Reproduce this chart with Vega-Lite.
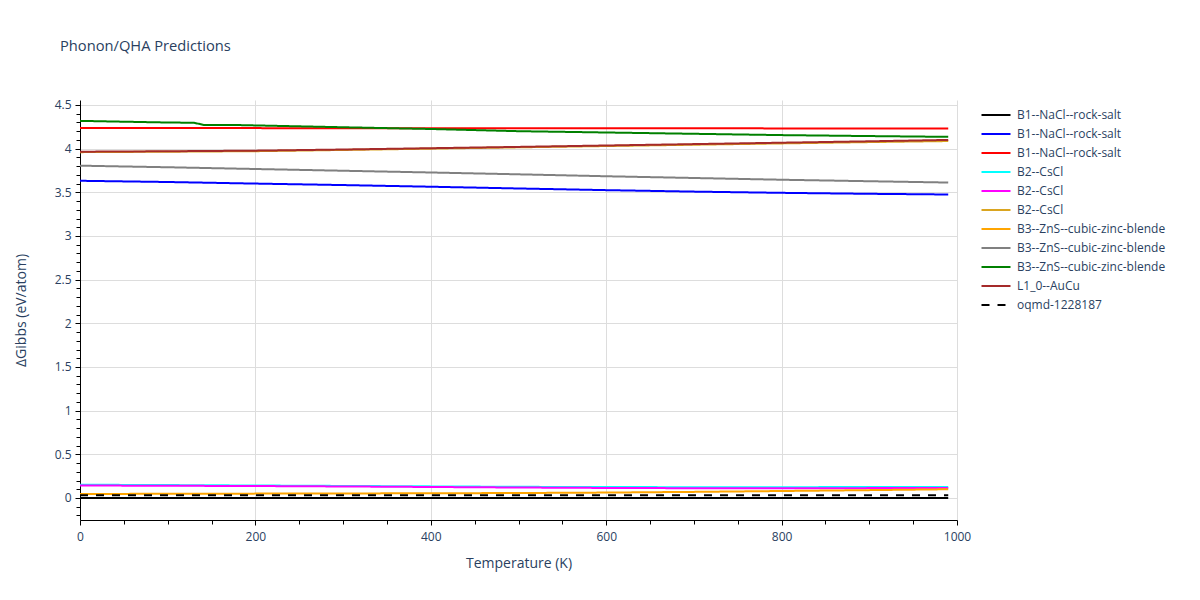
{
  "$schema": "https://vega.github.io/schema/vega-lite/v6.json",
  "width": 877,
  "height": 420,
  "autosize": {"type": "none"},
  "padding": {"left": 80, "top": 100, "right": 243, "bottom": 80},
  "background": "white",
  "config": {
    "font": "Open Sans",
    "view": {"stroke": null},
    "axis": {
      "domainColor": "#000000",
      "domainWidth": 1,
      "tickColor": "#000000",
      "tickSize": 5,
      "labelFont": "Open Sans",
      "labelFontSize": 12,
      "labelColor": "#2a3f5f",
      "titleFont": "Open Sans",
      "titleFontSize": 14,
      "titleFontWeight": "normal",
      "titleColor": "#2a3f5f",
      "gridColor": "#dddddd",
      "gridWidth": 1
    }
  },
  "title": {
    "text": "Phonon/QHA Predictions",
    "anchor": "start",
    "frame": "group",
    "dx": -20,
    "offset": 45,
    "fontSize": 14.7,
    "fontWeight": "normal",
    "color": "#2a3f5f",
    "font": "Open Sans"
  },
  "data": {
    "values": [
      {"s": "B1--NaCl--rock-salt#1", "T": 0, "G": 0},
      {"s": "B1--NaCl--rock-salt#1", "T": 200, "G": 0},
      {"s": "B1--NaCl--rock-salt#1", "T": 400, "G": 0},
      {"s": "B1--NaCl--rock-salt#1", "T": 600, "G": 0},
      {"s": "B1--NaCl--rock-salt#1", "T": 800, "G": 0},
      {"s": "B1--NaCl--rock-salt#1", "T": 990, "G": 0},

      {"s": "B1--NaCl--rock-salt#2", "T": 0, "G": 3.632},
      {"s": "B1--NaCl--rock-salt#2", "T": 100, "G": 3.618},
      {"s": "B1--NaCl--rock-salt#2", "T": 200, "G": 3.6},
      {"s": "B1--NaCl--rock-salt#2", "T": 300, "G": 3.583},
      {"s": "B1--NaCl--rock-salt#2", "T": 400, "G": 3.564},
      {"s": "B1--NaCl--rock-salt#2", "T": 500, "G": 3.544},
      {"s": "B1--NaCl--rock-salt#2", "T": 600, "G": 3.525},
      {"s": "B1--NaCl--rock-salt#2", "T": 700, "G": 3.508},
      {"s": "B1--NaCl--rock-salt#2", "T": 800, "G": 3.494},
      {"s": "B1--NaCl--rock-salt#2", "T": 900, "G": 3.483},
      {"s": "B1--NaCl--rock-salt#2", "T": 990, "G": 3.475},

      {"s": "B1--NaCl--rock-salt#3", "T": 0, "G": 4.235},
      {"s": "B1--NaCl--rock-salt#3", "T": 200, "G": 4.235},
      {"s": "B1--NaCl--rock-salt#3", "T": 400, "G": 4.234},
      {"s": "B1--NaCl--rock-salt#3", "T": 600, "G": 4.233},
      {"s": "B1--NaCl--rock-salt#3", "T": 800, "G": 4.232},
      {"s": "B1--NaCl--rock-salt#3", "T": 990, "G": 4.232},

      {"s": "B2--CsCl#1", "T": 0, "G": 0.152},
      {"s": "B2--CsCl#1", "T": 100, "G": 0.148},
      {"s": "B2--CsCl#1", "T": 200, "G": 0.143},
      {"s": "B2--CsCl#1", "T": 300, "G": 0.138},
      {"s": "B2--CsCl#1", "T": 400, "G": 0.133},
      {"s": "B2--CsCl#1", "T": 500, "G": 0.128},
      {"s": "B2--CsCl#1", "T": 600, "G": 0.125},
      {"s": "B2--CsCl#1", "T": 700, "G": 0.124},
      {"s": "B2--CsCl#1", "T": 800, "G": 0.124},
      {"s": "B2--CsCl#1", "T": 900, "G": 0.125},
      {"s": "B2--CsCl#1", "T": 990, "G": 0.127},

      {"s": "B2--CsCl#2", "T": 0, "G": 0.143},
      {"s": "B2--CsCl#2", "T": 100, "G": 0.14},
      {"s": "B2--CsCl#2", "T": 200, "G": 0.137},
      {"s": "B2--CsCl#2", "T": 300, "G": 0.132},
      {"s": "B2--CsCl#2", "T": 400, "G": 0.126},
      {"s": "B2--CsCl#2", "T": 500, "G": 0.12},
      {"s": "B2--CsCl#2", "T": 600, "G": 0.115},
      {"s": "B2--CsCl#2", "T": 700, "G": 0.112},
      {"s": "B2--CsCl#2", "T": 800, "G": 0.112},
      {"s": "B2--CsCl#2", "T": 900, "G": 0.113},
      {"s": "B2--CsCl#2", "T": 990, "G": 0.115},

      {"s": "B2--CsCl#3", "T": 0, "G": 3.96},
      {"s": "B2--CsCl#3", "T": 100, "G": 3.965},
      {"s": "B2--CsCl#3", "T": 200, "G": 3.971},
      {"s": "B2--CsCl#3", "T": 300, "G": 3.985},
      {"s": "B2--CsCl#3", "T": 400, "G": 4.0},
      {"s": "B2--CsCl#3", "T": 500, "G": 4.015},
      {"s": "B2--CsCl#3", "T": 600, "G": 4.03},
      {"s": "B2--CsCl#3", "T": 700, "G": 4.045},
      {"s": "B2--CsCl#3", "T": 800, "G": 4.06},
      {"s": "B2--CsCl#3", "T": 900, "G": 4.075},
      {"s": "B2--CsCl#3", "T": 990, "G": 4.087},

      {"s": "B3--ZnS--cubic-zinc-blende#1", "T": 0, "G": 0.046},
      {"s": "B3--ZnS--cubic-zinc-blende#1", "T": 100, "G": 0.048},
      {"s": "B3--ZnS--cubic-zinc-blende#1", "T": 200, "G": 0.05},
      {"s": "B3--ZnS--cubic-zinc-blende#1", "T": 300, "G": 0.052},
      {"s": "B3--ZnS--cubic-zinc-blende#1", "T": 400, "G": 0.054},
      {"s": "B3--ZnS--cubic-zinc-blende#1", "T": 500, "G": 0.057},
      {"s": "B3--ZnS--cubic-zinc-blende#1", "T": 600, "G": 0.062},
      {"s": "B3--ZnS--cubic-zinc-blende#1", "T": 700, "G": 0.07},
      {"s": "B3--ZnS--cubic-zinc-blende#1", "T": 800, "G": 0.08},
      {"s": "B3--ZnS--cubic-zinc-blende#1", "T": 900, "G": 0.09},
      {"s": "B3--ZnS--cubic-zinc-blende#1", "T": 990, "G": 0.1},

      {"s": "B3--ZnS--cubic-zinc-blende#2", "T": 0, "G": 3.805},
      {"s": "B3--ZnS--cubic-zinc-blende#2", "T": 100, "G": 3.787},
      {"s": "B3--ZnS--cubic-zinc-blende#2", "T": 200, "G": 3.767},
      {"s": "B3--ZnS--cubic-zinc-blende#2", "T": 300, "G": 3.747},
      {"s": "B3--ZnS--cubic-zinc-blende#2", "T": 400, "G": 3.727},
      {"s": "B3--ZnS--cubic-zinc-blende#2", "T": 500, "G": 3.706},
      {"s": "B3--ZnS--cubic-zinc-blende#2", "T": 600, "G": 3.684},
      {"s": "B3--ZnS--cubic-zinc-blende#2", "T": 700, "G": 3.664},
      {"s": "B3--ZnS--cubic-zinc-blende#2", "T": 800, "G": 3.644},
      {"s": "B3--ZnS--cubic-zinc-blende#2", "T": 900, "G": 3.627},
      {"s": "B3--ZnS--cubic-zinc-blende#2", "T": 990, "G": 3.612},

      {"s": "B3--ZnS--cubic-zinc-blende#3", "T": 0, "G": 4.318},
      {"s": "B3--ZnS--cubic-zinc-blende#3", "T": 90, "G": 4.301},
      {"s": "B3--ZnS--cubic-zinc-blende#3", "T": 130, "G": 4.296},
      {"s": "B3--ZnS--cubic-zinc-blende#3", "T": 142, "G": 4.27},
      {"s": "B3--ZnS--cubic-zinc-blende#3", "T": 170, "G": 4.272},
      {"s": "B3--ZnS--cubic-zinc-blende#3", "T": 200, "G": 4.266},
      {"s": "B3--ZnS--cubic-zinc-blende#3", "T": 300, "G": 4.245},
      {"s": "B3--ZnS--cubic-zinc-blende#3", "T": 400, "G": 4.225},
      {"s": "B3--ZnS--cubic-zinc-blende#3", "T": 500, "G": 4.2},
      {"s": "B3--ZnS--cubic-zinc-blende#3", "T": 600, "G": 4.185},
      {"s": "B3--ZnS--cubic-zinc-blende#3", "T": 700, "G": 4.17},
      {"s": "B3--ZnS--cubic-zinc-blende#3", "T": 800, "G": 4.155},
      {"s": "B3--ZnS--cubic-zinc-blende#3", "T": 900, "G": 4.144},
      {"s": "B3--ZnS--cubic-zinc-blende#3", "T": 990, "G": 4.135},

      {"s": "L1_0--AuCu#1", "T": 0, "G": 3.965},
      {"s": "L1_0--AuCu#1", "T": 100, "G": 3.97},
      {"s": "L1_0--AuCu#1", "T": 200, "G": 3.977},
      {"s": "L1_0--AuCu#1", "T": 300, "G": 3.99},
      {"s": "L1_0--AuCu#1", "T": 400, "G": 4.005},
      {"s": "L1_0--AuCu#1", "T": 500, "G": 4.02},
      {"s": "L1_0--AuCu#1", "T": 600, "G": 4.036},
      {"s": "L1_0--AuCu#1", "T": 700, "G": 4.052},
      {"s": "L1_0--AuCu#1", "T": 800, "G": 4.068},
      {"s": "L1_0--AuCu#1", "T": 900, "G": 4.084},
      {"s": "L1_0--AuCu#1", "T": 990, "G": 4.1},

      {"s": "oqmd-1228187#1", "T": 0, "G": 0.03},
      {"s": "oqmd-1228187#1", "T": 990, "G": 0.03}
    ]
  },
  "mark": {"type": "line", "strokeWidth": 2, "clip": true},
  "encoding": {
    "x": {
      "field": "T",
      "type": "quantitative",
      "scale": {"domain": [0, 1000], "nice": false, "zero": false},
      "axis": {
        "title": "Temperature (K)",
        "values": [0, 50, 100, 150, 200, 250, 300, 350, 400, 450, 500, 550, 600, 650, 700, 750, 800, 850, 900, 950, 1000],
        "labelExpr": "datum.value % 200 === 0 ? format(datum.value, 'd') : ''",
        "gridOpacity": {"condition": {"test": "datum.value % 200 === 0 && datum.value > 0", "value": 1}, "value": 0},
        "tickSize": {"condition": {"test": "datum.value % 200 === 0", "value": 5}, "value": 4},
        "labelPadding": 6,
        "titlePadding": 14,
        "labelFlush": false
      }
    },
    "y": {
      "field": "G",
      "type": "quantitative",
      "scale": {"domain": [-0.252, 4.557], "nice": false, "zero": false},
      "axis": {
        "title": "ΔGibbs (eV/atom)",
        "values": [-0.2, -0.1, 0, 0.1, 0.2, 0.3, 0.4, 0.5, 0.6, 0.7, 0.8, 0.9, 1, 1.1, 1.2, 1.3, 1.4, 1.5, 1.6, 1.7, 1.8, 1.9, 2, 2.1, 2.2, 2.3, 2.4, 2.5, 2.6, 2.7, 2.8, 2.9, 3, 3.1, 3.2, 3.3, 3.4, 3.5, 3.6, 3.7, 3.8, 3.9, 4, 4.1, 4.2, 4.3, 4.4, 4.5],
        "labelExpr": "abs(datum.value % 0.5) < 1e-9 ? format(datum.value, '~g') : ''",
        "gridOpacity": {"condition": {"test": "abs(datum.value % 0.5) < 1e-9", "value": 1}, "value": 0},
        "tickSize": {"condition": {"test": "abs(datum.value % 0.5) < 1e-9", "value": 5}, "value": 4},
        "labelPadding": 4,
        "titlePadding": 26,
        "labelFlush": false
      }
    },
    "color": {
      "field": "s",
      "type": "nominal",
      "scale": {
        "domain": ["B1--NaCl--rock-salt#1", "B1--NaCl--rock-salt#2", "B1--NaCl--rock-salt#3", "B2--CsCl#1", "B2--CsCl#2", "B2--CsCl#3", "B3--ZnS--cubic-zinc-blende#1", "B3--ZnS--cubic-zinc-blende#2", "B3--ZnS--cubic-zinc-blende#3", "L1_0--AuCu#1", "oqmd-1228187#1"],
        "range": ["black", "blue", "red", "cyan", "magenta", "goldenrod", "orange", "gray", "green", "brown", "black"]
      },
      "legend": {
        "title": null,
        "orient": "none",
        "legendX": 905,
        "legendY": 4,
        "symbolType": "M-1.45,0H1.45",
        "symbolSize": 400,
        "symbolStrokeWidth": 2,
        "labelExpr": "split(datum.label, '#')[0]",
        "labelFont": "Open Sans",
        "labelFontSize": 12,
        "labelColor": "#2a3f5f",
        "rowPadding": 2,
        "padding": 0,
        "labelOffset": 10,
        "labelLimit": 300
      }
    },
    "strokeDash": {
      "field": "s",
      "type": "nominal",
      "scale": {
        "domain": ["B1--NaCl--rock-salt#1", "B1--NaCl--rock-salt#2", "B1--NaCl--rock-salt#3", "B2--CsCl#1", "B2--CsCl#2", "B2--CsCl#3", "B3--ZnS--cubic-zinc-blende#1", "B3--ZnS--cubic-zinc-blende#2", "B3--ZnS--cubic-zinc-blende#3", "L1_0--AuCu#1", "oqmd-1228187#1"],
        "range": [[1, 0], [1, 0], [1, 0], [1, 0], [1, 0], [1, 0], [1, 0], [1, 0], [1, 0], [1, 0], [8, 8]]
      },
      "legend": {
        "title": null,
        "orient": "none",
        "legendX": 905,
        "legendY": 4,
        "symbolType": "M-1.45,0H1.45",
        "symbolSize": 400,
        "symbolStrokeWidth": 2,
        "labelExpr": "split(datum.label, '#')[0]",
        "labelFont": "Open Sans",
        "labelFontSize": 12,
        "labelColor": "#2a3f5f",
        "rowPadding": 2,
        "padding": 0,
        "labelOffset": 10,
        "labelLimit": 300
      }
    }
  }
}
